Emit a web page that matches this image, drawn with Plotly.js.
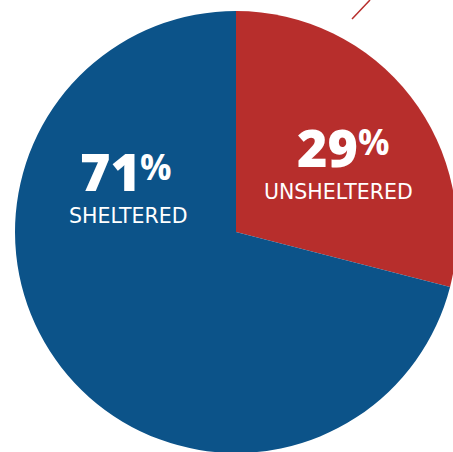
<!DOCTYPE html>
<html>
<head>
<meta charset="utf-8">
<script src="https://cdn.plot.ly/plotly-3.0.1.min.js"></script>
<style>
html,body{margin:0;padding:0;overflow:hidden;background:#fff;width:453px;height:452px;}
#chart{width:460px;height:460px;}
</style>
</head>
<body>
<div id="chart"></div>
<script>
// Data
const categories = ['UNSHELTERED', 'SHELTERED'];
const shares = [29, 71];
const sliceColors = ['#b72e2c', '#0c5389'];

// Layout geometry (pixels)
const W = 460, H = 460;
const M = {l: 15, t: 11, r: 3, b: 7};
const PW = W - M.l - M.r, PH = H - M.t - M.b;
const px = x => (x - M.l) / PW;
const py = y => 1 - (y - M.t) / PH;

// Label placement (pixel anchors) per category
const labelPos = {
  'UNSHELTERED': {numRight: 360, pctLeft: 356, numY: 146, pctY: 141.5, capX: 338.5, capY: 191.5},
  'SHELTERED':   {numRight: 143, pctLeft: 138, numY: 170.5, pctY: 166.5, capX: 127.5, capY: 215.5}
};

const trace = {
  type: 'pie',
  labels: categories,
  values: shares,
  sort: false,
  direction: 'clockwise',
  rotation: 0,
  textinfo: 'none',
  hoverinfo: 'none',
  marker: {colors: sliceColors, line: {width: 0}},
  showlegend: false
};

const annotations = [];
categories.forEach((c, i) => {
  const p = labelPos[c];
  annotations.push({
    xref: 'paper', yref: 'paper', x: px(p.numRight), y: py(p.numY),
    xanchor: 'right', yanchor: 'middle', showarrow: false,
    text: String(shares[i]),
    font: {family: 'Open Sans', size: 52, color: '#ffffff', weight: 800}
  });
  annotations.push({
    xref: 'paper', yref: 'paper', x: px(p.pctLeft), y: py(p.pctY),
    xanchor: 'left', yanchor: 'middle', showarrow: false,
    text: '%',
    font: {family: 'Open Sans', size: 35, color: '#ffffff', weight: 700}
  });
  annotations.push({
    xref: 'paper', yref: 'paper', x: px(p.capX), y: py(p.capY),
    xanchor: 'center', yanchor: 'middle', showarrow: false,
    text: c,
    font: {family: 'DejaVu Sans', size: 20.5, color: '#ffffff'}
  });
});

const layout = {
  width: W, height: H,
  margin: M,
  paper_bgcolor: '#ffffff',
  annotations: annotations,
  shapes: [{
    type: 'line', xref: 'paper', yref: 'paper',
    x0: px(352), y0: py(19), x1: px(370), y1: py(0),
    line: {color: '#b72e2c', width: 1.5}
  }]
};

Plotly.newPlot('chart', [trace], layout, {displayModeBar: false, staticPlot: true});
</script>
</body>
</html>
